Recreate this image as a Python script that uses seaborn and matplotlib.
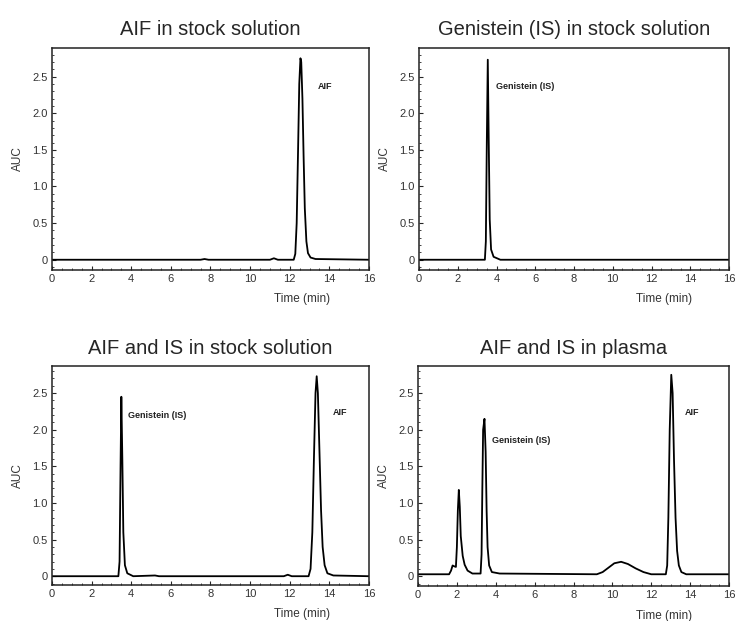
import pandas as pd
import numpy as np
import matplotlib.pyplot as plt
import seaborn as sns
from matplotlib.ticker import MultipleLocator

# chromatogram traces: time (min) and AUC
aif_stock_t = [0, 3.0, 7.5, 7.7, 7.9, 11.0, 11.2, 11.4, 12.2, 12.28, 12.35, 12.42, 12.48,
               12.54, 12.58, 12.64, 12.7, 12.76, 12.84, 12.92, 13.05, 13.3, 16]
aif_stock_y = [0, 0, 0, 0.01, 0, 0, 0.02, 0, 0, 0.08, 0.5, 1.5, 2.4,
               2.75, 2.7, 2.2, 1.4, 0.7, 0.25, 0.09, 0.03, 0.01, 0]

gen_stock_t = [0, 3.4, 3.45, 3.5, 3.55, 3.6, 3.65, 3.72, 3.85, 4.2, 16]
gen_stock_y = [0, 0, 0.25, 1.6, 2.73, 1.6, 0.55, 0.14, 0.04, 0, 0]

both_stock_t = [0, 3.35, 3.41, 3.46, 3.5, 3.55, 3.6, 3.68, 3.8, 4.1, 5.2, 5.4, 11.7, 11.9,
                12.1, 12.95, 13.05, 13.14, 13.22, 13.3, 13.36, 13.42, 13.5, 13.58,
                13.66, 13.76, 13.9, 14.2, 16]
both_stock_y = [0, 0, 0.2, 1.5, 2.45, 1.6, 0.6, 0.15, 0.04, 0, 0.01, 0, 0, 0.02,
                0, 0, 0.1, 0.6, 1.6, 2.5, 2.73, 2.5, 1.7, 0.9,
                0.4, 0.15, 0.04, 0.01, 0]

plasma_t = [0, 1.6, 1.7, 1.78, 1.85, 1.95, 2.0, 2.05, 2.1, 2.15, 2.2, 2.3, 2.4, 2.55,
            2.8, 3.22, 3.27, 3.31, 3.35, 3.42, 3.48, 3.53, 3.58, 3.66, 3.8, 4.2,
            9.2, 9.5, 9.8, 10.1, 10.45, 10.8, 11.2, 11.6, 12.0, 12.75, 12.82, 12.88,
            12.95, 13.03, 13.1, 13.17, 13.25, 13.33, 13.42, 13.55, 13.8, 16]
plasma_y = [0.03, 0.03, 0.08, 0.15, 0.14, 0.13, 0.4, 0.9, 1.18, 0.95, 0.55, 0.28, 0.16, 0.08,
            0.04, 0.04, 0.3, 1.2, 2.0, 2.15, 1.7, 0.9, 0.4, 0.15, 0.06, 0.04,
            0.03, 0.06, 0.12, 0.18, 0.2, 0.17, 0.11, 0.06, 0.03, 0.03, 0.15, 0.8,
            2.0, 2.75, 2.5, 1.6, 0.8, 0.35, 0.15, 0.06, 0.03, 0.03]

titles = ['AIF in stock solution', 'Genistein (IS) in stock solution',
          'AIF and IS in stock solution', 'AIF and IS in plasma']
traces = [(aif_stock_t, aif_stock_y), (gen_stock_t, gen_stock_y),
          (both_stock_t, both_stock_y), (plasma_t, plasma_y)]
peak_labels = [
    [('AIF', 13.4, 2.36)],
    [('Genistein (IS)', 3.97, 2.37)],
    [('Genistein (IS)', 3.86, 2.19), ('AIF', 14.16, 2.23)],
    [('Genistein (IS)', 3.82, 1.85), ('AIF', 13.7, 2.23)],
]
x_ticks = [0, 2, 4, 6, 8, 10, 12, 14, 16]
y_ticks = [0, 0.5, 1.0, 1.5, 2.0, 2.5]
y_tick_labels = ['0', '0.5', '1.0', '1.5', '2.0', '2.5']

sns.set_theme(style='ticks')
plt.rcParams['font.family'] = ['Liberation Sans', 'DejaVu Sans']

fig = plt.figure(figsize=(7.37, 6.21), dpi=100)
W, H = 737, 621
# axes boxes in pixels: left, top, right, bottom
boxes = [(52, 48, 369, 270), (419, 48, 729, 270),
         (52, 366, 369, 585), (418, 366, 729, 586)]
ylims = [(-0.14, 2.89), (-0.14, 2.89), (-0.12, 2.87), (-0.13, 2.87)]

for i, (l, t, r, b) in enumerate(boxes):
    ax = fig.add_axes([l / W, 1 - b / H, (r - l) / W, (b - t) / H])
    df = pd.DataFrame({'time': traces[i][0], 'auc': traces[i][1]})
    sns.lineplot(data=df, x='time', y='auc', ax=ax, color='black', linewidth=1.3,
                 sort=False, estimator=None)
    ax.set_xlim(0, 16)
    ax.set_ylim(*ylims[i])
    ax.set_xticks(x_ticks)
    ax.set_xticklabels([str(v) for v in x_ticks])
    ax.set_yticks(y_ticks)
    ax.set_yticklabels(y_tick_labels)
    ax.xaxis.set_minor_locator(MultipleLocator(0.5))
    ax.yaxis.set_minor_locator(MultipleLocator(0.1))
    ax.tick_params(which='major', direction='in', length=3, width=0.8,
                   labelsize=8, labelcolor='#333333', pad=3)
    ax.tick_params(which='minor', direction='in', length=1.5, width=0.6)
    for s in ax.spines.values():
        s.set_linewidth(1.1)
        s.set_color('#222222')
    h = b - t
    ax.set_xlabel('Time (min)', fontsize=8.5, color='#333333', va='center')
    ax.xaxis.set_label_coords(0.79, -29.5 / h)
    ax.set_ylabel('AUC', fontsize=8.5, color='#333333', va='center')
    ax.yaxis.set_label_coords(-34 / (r - l), 0.5)
    ax.set_title(titles[i], fontsize=14.5, pad=9)
    for txt, x, y in peak_labels[i]:
        ax.text(x, y, txt, fontsize=6.5, fontweight='bold', ha='left', va='center',
                color='#222222')

plt.savefig('out.png', dpi=100)
